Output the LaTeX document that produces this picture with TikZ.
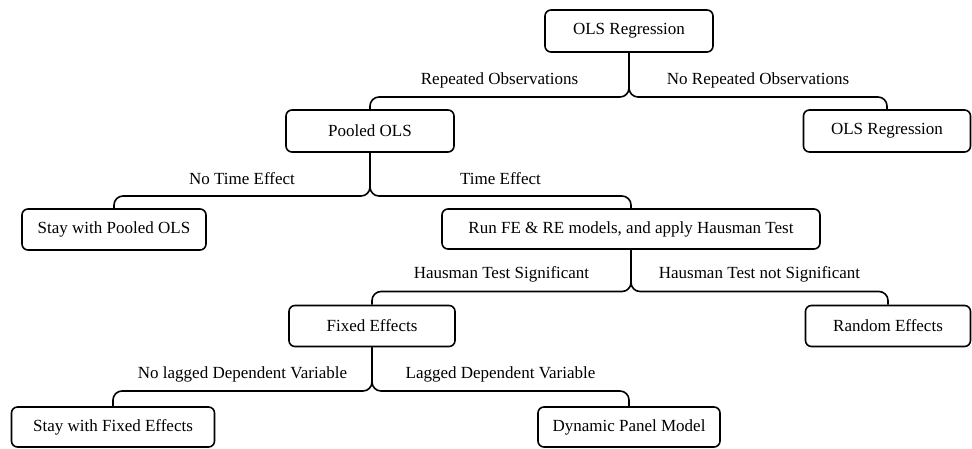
\documentclass[tikz,border=0pt]{standalone}
\usepackage{fontspec}
\setmainfont{Liberation Serif}
\begin{document}
\begin{tikzpicture}[x=1pt,y=-1pt,
  box/.style={draw, line width=1.6pt, rounded corners=6pt, inner sep=0pt,
    minimum height=42pt, font=\fontsize{17}{20}\selectfont, align=center},
  conn/.style={line width=1.6pt, rounded corners=9pt},
  lbl/.style={font=\fontsize{17}{20}\selectfont, inner sep=0pt, anchor=center, yshift=17pt, pos=0.75}]
\useasboundingbox (0,0) rectangle (972,448);
\node[box, minimum width=168pt] (top) at (629,31) {OLS Regression};
\node[box, minimum width=168pt] (pooled) at (370,131) {Pooled OLS};
\node[box, minimum width=167pt] (olsr) at (887,131) {OLS Regression};
\node[box, minimum width=184pt, minimum height=41pt] (stayp) at (114,229.5) {Stay with Pooled OLS};
\node[box, minimum width=378pt, minimum height=40pt] (run) at (631,229) {Run FE \& RE models, and apply Hausman Test};
\node[box, minimum width=166pt, minimum height=41pt] (fixed) at (372,326) {Fixed Effects};
\node[box, minimum width=165pt, minimum height=41pt] (random) at (888,326) {Random Effects};
\node[box, minimum width=203pt, minimum height=40pt] (stayf) at (113,427) {Stay with Fixed Effects};
\node[box, minimum width=182pt, minimum height=40pt] (dyn) at (629,427) {Dynamic Panel Model};

\coordinate (j1) at (top.south |- 0,97);
\coordinate (j2) at (pooled.south |- 0,196);
\coordinate (j3) at (run.south |- 0,291.5);
\coordinate (j4) at (fixed.south |- 0,391);

\draw[conn] (pooled.north) |- node[lbl] {Repeated Observations} (j1) -- (top.south);
\draw[conn] (olsr.north) |- node[lbl] {No Repeated Observations} (j1) -- (top.south);
\draw[conn] (stayp.north) |- node[lbl] {No Time Effect} (j2) -- (pooled.south);
\draw[conn] (run.north) |- node[lbl] {Time Effect} (j2) -- (pooled.south);
\draw[conn] (fixed.north) |- node[lbl] {Hausman Test Significant} (j3) -- (run.south);
\draw[conn] (random.north) |- node[lbl] {Hausman Test not Significant} (j3) -- (run.south);
\draw[conn] (stayf.north) |- node[lbl] {No lagged Dependent Variable} (j4) -- (fixed.south);
\draw[conn] (dyn.north) |- node[lbl] {Lagged Dependent Variable} (j4) -- (fixed.south);
\end{tikzpicture}
\end{document}
